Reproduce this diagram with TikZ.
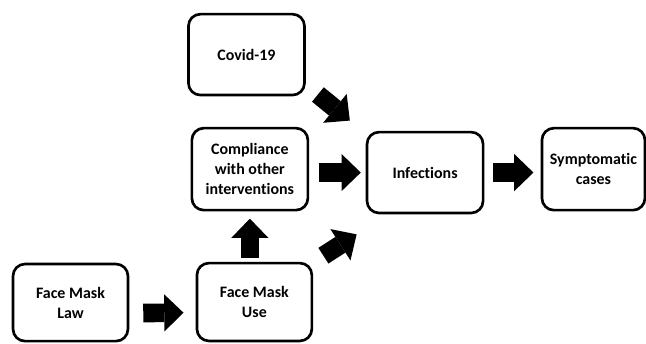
\documentclass[tikz,border=0pt]{standalone}
\usepackage{fontspec}
\setmainfont{Carlito}[Ligatures=NoCommon]
\usetikzlibrary{arrows.meta, positioning, calc}

\begin{document}
\begin{tikzpicture}[
  box/.style={draw, rounded corners=9pt, line width=2pt, minimum width=3.07cm, minimum height=2.14cm, align=center, font=\fontsize{12}{15}\selectfont\bfseries},
  blockarrow/.style={line width=14pt, -{Triangle[length=14.5pt, width=28pt, line width=0pt]}}
]
  \useasboundingbox (0,0) rectangle (17.09, 9.075);

  % Boxes
  \node[box] (covid) at (6.52, 7.63) {Covid-19};
  \node[box, minimum height=2.17cm] (compl) at (6.61, 4.60) {Compliance\\with other\\interventions};
  \node[box, minimum width=3.04cm, minimum height=2.06cm] (use) at (6.73, 1.085) {Face Mask\\Use};
  \node[box, minimum width=3.04cm, minimum height=2.04cm] (law) at (1.865, 1.07) {Face Mask\\Law};
  \node[box] (inf) at (11.245, 4.51) {Infections};
  \node[box, minimum width=2.725cm, minimum height=2.17cm] (sym) at (15.70, 4.60) {Symptomatic\\cases};

  % Block arrows
  \draw[blockarrow, shorten <=0.37cm, shorten >=0.32cm] ($(law.east)+(0,-0.28)$) -- ($(use.west)+(0,-0.28)$);
  \draw[blockarrow, shorten <=0.11cm, shorten >=0.19cm] (compl.south |- use.north) -- (compl.south);
  \draw[blockarrow, shorten <=0.26cm, shorten >=0.13cm] (compl.east |- inf.west) -- (inf.west);
  \draw[blockarrow, shorten <=0.24cm, shorten >=0.19cm] (inf.east) -- (inf.east -| sym.west);
  \draw[blockarrow] ($(covid.south east)+(0.32,0.05)$) -- ($(inf.north west)+(-0.42,0.27)$);
  \draw[blockarrow] ($(use.north east)+(0.27,0.16)$) -- ($(inf.south west)+(-0.24,-0.53)$);

\end{tikzpicture}
\end{document}
